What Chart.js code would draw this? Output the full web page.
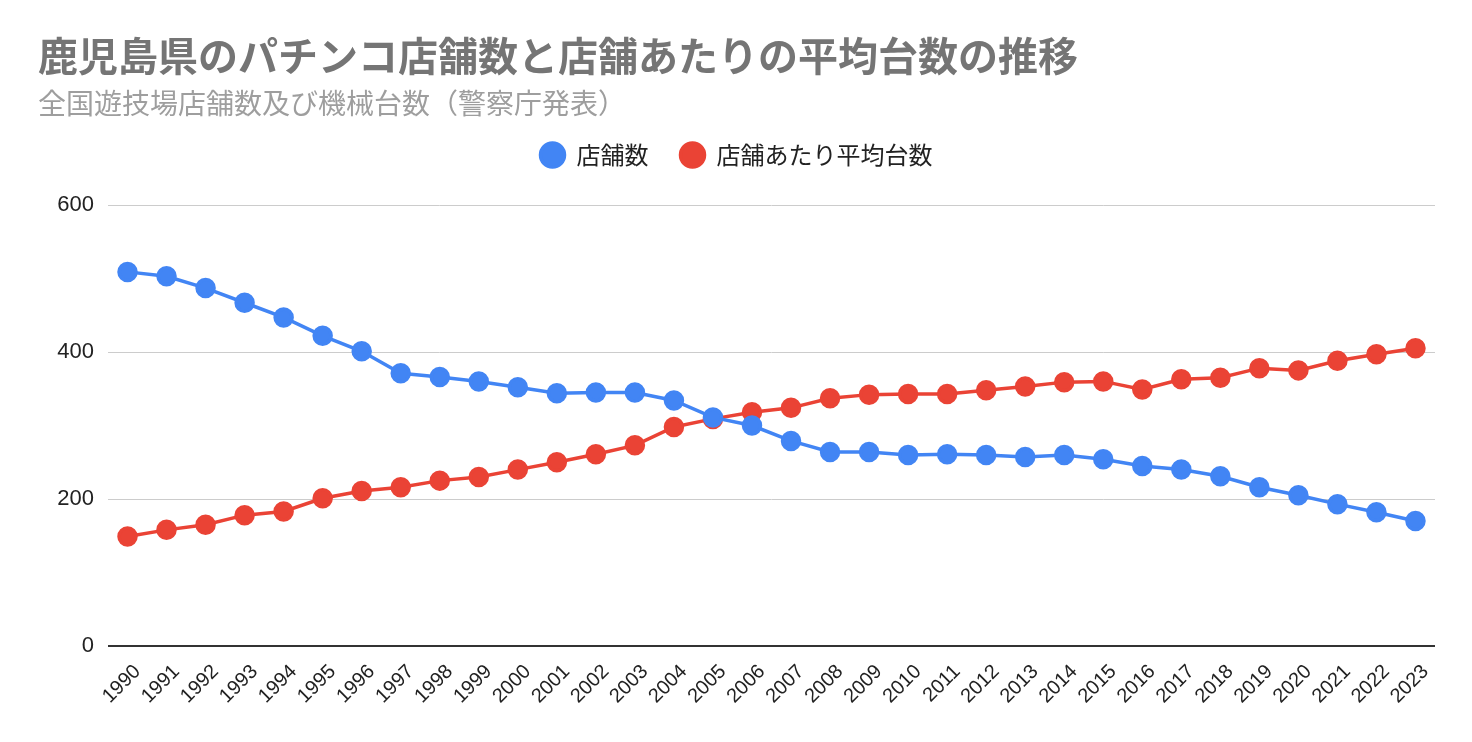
<!DOCTYPE html>
<html><head><meta charset="utf-8">
<script src="https://cdn.jsdelivr.net/npm/chart.js@4.4.0/dist/chart.umd.min.js"></script>
<style>
html,body{margin:0;padding:0;background:#fff;}
#wrap{position:relative;width:1472px;height:742px;overflow:hidden;}
#title{position:absolute;left:38px;top:34px;font-family:"Noto Sans CJK JP";font-weight:bold;font-size:40px;line-height:40px;color:#757575;white-space:nowrap;}
#sub{position:absolute;left:38px;top:88px;font-family:"Noto Sans CJK JP";font-size:28px;line-height:28px;color:#9e9e9e;white-space:nowrap;}
canvas{position:absolute;left:0;top:0;}
</style></head><body>
<div id="wrap">
<canvas id="c" width="1472" height="742"></canvas>
<div id="title">鹿児島県のパチンコ店舗数と店舗あたりの平均台数の推移</div>
<div id="sub">全国遊技場店舗数及び機械台数（警察庁発表）</div>
</div>
<script>
const years = ["1990","1991","1992","1993","1994","1995","1996","1997","1998","1999","2000","2001","2002","2003","2004","2005","2006","2007","2008","2009","2010","2011","2012","2013","2014","2015","2016","2017","2018","2019","2020","2021","2022","2023"];
const storeCount = [509,503,487,467,447,422,401,371,366,360,352,344,345,345,334,311,300,279,264,264,260,261,260,257,260,254,245,240,231,216,205,193,182,170];
const avgMachines = [149,158,165,178,183,201,211,216,225,230,240,250,261,273,298,309,318,324,337,342,343,343,348,353,359,360,349,363,365,378,375,388,397,405];
const seriesNames = ["店舗数","店舗あたり平均台数"];
const yTicks = [0,200,400,600];

const blue = "#4285F4", red = "#EA4335";
new Chart(document.getElementById("c"), {
  type: "line",
  data: {
    labels: years,
    datasets: [
      {label: seriesNames[0], data: storeCount, borderColor: blue, backgroundColor: blue, pointBackgroundColor: blue, pointBorderColor: blue, borderWidth: 3.5, pointRadius: 8.5, pointHoverRadius: 8.5, tension: 0},
      {label: seriesNames[1], data: avgMachines, borderColor: red, backgroundColor: red, pointBackgroundColor: red, pointBorderColor: red, borderWidth: 3.5, pointRadius: 8.5, pointHoverRadius: 8.5, tension: 0}
    ]
  },
  options: {
    responsive: false, animation: false, devicePixelRatio: 1,
    layout: {padding: {left: 38, right: 37, top: 111, bottom: 0}},
    plugins: {
      legend: {display: true, position: "top", align: "center",
        labels: {usePointStyle: true, pointStyle: "circle", pointStyleWidth: 24, boxWidth: 24, boxHeight: 17, padding: 32, color: "#222",
          font: {family: "Noto Sans CJK JP", size: 24}}},
      tooltip: {enabled: false}
    },
    scales: {
      x: {type: "category", offset: true,
        grid: {display: false, drawTicks: false}, border: {display: false},
        ticks: {autoSkip: false, maxRotation: 45, minRotation: 45, color: "#222", padding: 14, labelOffset: 10,
          font: {family: "Liberation Sans", size: 20}},
        afterFit(s){ s.height = 96; }
      },
      spacer: {type: "category", position: "top", display: true, offset: true,
        grid: {display: false, drawTicks: false}, border: {display: false},
        ticks: {display: false},
        afterFit(s){ s.height = 28; }
      },
      y: {min: 0, max: 600,
        afterBuildTicks(s){ s.ticks = yTicks.map(v => ({value: v})); },
        grid: {drawTicks: false, color: c => c.tick && c.tick.value === 0 ? "#333" : "#ccc", lineWidth: c => c.tick && c.tick.value === 0 ? 2 : 1},
        border: {display: false},
        ticks: {color: "#222", padding: 14, font: {family: "Liberation Sans", size: 22}},
        afterFit(s){ s.width = 70; }
      }
    }
  }
});
</script>
</body></html>
